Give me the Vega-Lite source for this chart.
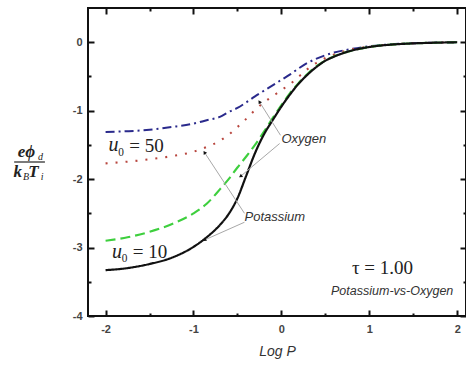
{
  "$schema": "https://vega.github.io/schema/vega-lite/v6.json",
  "width": 378,
  "height": 308,
  "autosize": {"type": "none"},
  "padding": {"left": 88, "top": 8, "right": 0, "bottom": 49},
  "background": "white",
  "config": {
    "view": {"stroke": "#111", "strokeWidth": 2},
    "axis": {"grid": false, "domain": false, "labelFont": "Liberation Sans", "labelFontSize": 11, "labelFontWeight": "bold", "labelColor": "#444", "tickColor": "#111", "tickWidth": 2}
  },
  "datasets": {
    "curves": [
      {"s": "O50", "x": -2, "y": -1.31}, {"s": "O50", "x": -1.75, "y": -1.3}, {"s": "O50", "x": -1.5, "y": -1.28}, {"s": "O50", "x": -1.25, "y": -1.24}, {"s": "O50", "x": -1, "y": -1.19}, {"s": "O50", "x": -0.85, "y": -1.14}, {"s": "O50", "x": -0.7, "y": -1.09}, {"s": "O50", "x": -0.6, "y": -1.02}, {"s": "O50", "x": -0.5, "y": -0.96}, {"s": "O50", "x": -0.4, "y": -0.88}, {"s": "O50", "x": -0.3, "y": -0.79}, {"s": "O50", "x": -0.2, "y": -0.71}, {"s": "O50", "x": -0.1, "y": -0.63}, {"s": "O50", "x": 0, "y": -0.55}, {"s": "O50", "x": 0.1, "y": -0.47}, {"s": "O50", "x": 0.2, "y": -0.38}, {"s": "O50", "x": 0.3, "y": -0.3}, {"s": "O50", "x": 0.4, "y": -0.24}, {"s": "O50", "x": 0.5, "y": -0.19}, {"s": "O50", "x": 0.6, "y": -0.15}, {"s": "O50", "x": 0.75, "y": -0.11}, {"s": "O50", "x": 1, "y": -0.06}, {"s": "O50", "x": 1.25, "y": -0.03}, {"s": "O50", "x": 1.5, "y": -0.015}, {"s": "O50", "x": 1.75, "y": -0.006}, {"s": "O50", "x": 2, "y": 0},
      {"s": "K50", "x": -2, "y": -1.77}, {"s": "K50", "x": -1.75, "y": -1.745}, {"s": "K50", "x": -1.5, "y": -1.71}, {"s": "K50", "x": -1.25, "y": -1.665}, {"s": "K50", "x": -1, "y": -1.6}, {"s": "K50", "x": -0.85, "y": -1.53}, {"s": "K50", "x": -0.7, "y": -1.44}, {"s": "K50", "x": -0.6, "y": -1.35}, {"s": "K50", "x": -0.5, "y": -1.24}, {"s": "K50", "x": -0.4, "y": -1.12}, {"s": "K50", "x": -0.3, "y": -0.99}, {"s": "K50", "x": -0.2, "y": -0.88}, {"s": "K50", "x": -0.1, "y": -0.79}, {"s": "K50", "x": 0, "y": -0.7}, {"s": "K50", "x": 0.1, "y": -0.61}, {"s": "K50", "x": 0.2, "y": -0.5}, {"s": "K50", "x": 0.3, "y": -0.39}, {"s": "K50", "x": 0.4, "y": -0.3}, {"s": "K50", "x": 0.5, "y": -0.23}, {"s": "K50", "x": 0.6, "y": -0.18}, {"s": "K50", "x": 0.75, "y": -0.12}, {"s": "K50", "x": 1, "y": -0.065}, {"s": "K50", "x": 1.25, "y": -0.033}, {"s": "K50", "x": 1.5, "y": -0.016}, {"s": "K50", "x": 1.75, "y": -0.007}, {"s": "K50", "x": 2, "y": 0},
      {"s": "O10", "x": -2, "y": -2.9}, {"s": "O10", "x": -1.75, "y": -2.85}, {"s": "O10", "x": -1.5, "y": -2.77}, {"s": "O10", "x": -1.25, "y": -2.66}, {"s": "O10", "x": -1, "y": -2.5}, {"s": "O10", "x": -0.85, "y": -2.36}, {"s": "O10", "x": -0.7, "y": -2.15}, {"s": "O10", "x": -0.6, "y": -2.0}, {"s": "O10", "x": -0.5, "y": -1.83}, {"s": "O10", "x": -0.4, "y": -1.67}, {"s": "O10", "x": -0.3, "y": -1.5}, {"s": "O10", "x": -0.2, "y": -1.31}, {"s": "O10", "x": -0.1, "y": -1.11}, {"s": "O10", "x": 0, "y": -0.92}, {"s": "O10", "x": 0.1, "y": -0.74}, {"s": "O10", "x": 0.2, "y": -0.59}, {"s": "O10", "x": 0.3, "y": -0.46}, {"s": "O10", "x": 0.4, "y": -0.35}, {"s": "O10", "x": 0.5, "y": -0.27}, {"s": "O10", "x": 0.6, "y": -0.205}, {"s": "O10", "x": 0.75, "y": -0.14}, {"s": "O10", "x": 1, "y": -0.07}, {"s": "O10", "x": 1.25, "y": -0.035}, {"s": "O10", "x": 1.5, "y": -0.017}, {"s": "O10", "x": 1.75, "y": -0.007}, {"s": "O10", "x": 2, "y": 0},
      {"s": "K10", "x": -2, "y": -3.33}, {"s": "K10", "x": -1.75, "y": -3.3}, {"s": "K10", "x": -1.5, "y": -3.24}, {"s": "K10", "x": -1.25, "y": -3.15}, {"s": "K10", "x": -1, "y": -2.99}, {"s": "K10", "x": -0.85, "y": -2.85}, {"s": "K10", "x": -0.7, "y": -2.67}, {"s": "K10", "x": -0.6, "y": -2.51}, {"s": "K10", "x": -0.5, "y": -2.28}, {"s": "K10", "x": -0.4, "y": -1.95}, {"s": "K10", "x": -0.3, "y": -1.62}, {"s": "K10", "x": -0.2, "y": -1.35}, {"s": "K10", "x": -0.1, "y": -1.14}, {"s": "K10", "x": 0, "y": -0.94}, {"s": "K10", "x": 0.1, "y": -0.76}, {"s": "K10", "x": 0.2, "y": -0.6}, {"s": "K10", "x": 0.3, "y": -0.47}, {"s": "K10", "x": 0.4, "y": -0.36}, {"s": "K10", "x": 0.5, "y": -0.27}, {"s": "K10", "x": 0.6, "y": -0.21}, {"s": "K10", "x": 0.75, "y": -0.14}, {"s": "K10", "x": 1, "y": -0.07}, {"s": "K10", "x": 1.25, "y": -0.035}, {"s": "K10", "x": 1.5, "y": -0.017}, {"s": "K10", "x": 1.75, "y": -0.007}, {"s": "K10", "x": 2, "y": 0}
    ],
    "leaders": [
      {"x": -0.01, "y": -1.36, "x2": -0.25, "y2": -0.87, "dir": "up"},
      {"x": -0.02, "y": -1.48, "x2": -0.465, "y2": -1.96, "dir": "down"},
      {"x": -0.42, "y": -2.5, "x2": -0.875, "y2": -1.61, "dir": "up"},
      {"x": -0.42, "y": -2.63, "x2": -0.875, "y2": -2.89, "dir": "down"}
    ],
    "uLabels": [
      {"t": "u", "x": -1.91, "y": -1.5},
      {"t": "u", "x": -1.87, "y": -3.06}
    ],
    "serifNotes": [
      {"t": "₀ = 50", "x": -1.6, "y": -1.51},
      {"t": "₀ = 10", "x": -1.56, "y": -3.07},
      {"t": "τ = 1.00", "x": 1.15, "y": -3.3}
    ],
    "sansNotes": [
      {"t": "Oxygen", "x": 0.0, "y": -1.41},
      {"t": "Potassium", "x": -0.42, "y": -2.56}
    ],
    "caption": [
      {"t": "Potassium-vs-Oxygen", "x": 1.26, "y": -3.64}
    ],
    "ybig": [
      {"t": "eϕ", "x": -2.9, "y": -1.6},
      {"t": "k", "x": -3.0, "y": -1.9},
      {"t": "T", "x": -2.82, "y": -1.9}
    ],
    "ysmall": [
      {"t": "d", "x": -2.74, "y": -1.68},
      {"t": "B", "x": -2.905, "y": -1.97},
      {"t": "i", "x": -2.723, "y": -1.97}
    ],
    "ybar": [
      {"x": -3.04, "x2": -2.69, "y": -1.75}
    ]
  },
  "resolve": {"axis": {"x": "independent", "y": "independent"}},
  "layer": [
    {
      "data": {"name": "curves"},
      "mark": {"type": "line", "interpolate": "monotone"},
      "encoding": {
        "x": {"field": "x", "type": "quantitative", "scale": {"domain": [-2.2, 2.1], "nice": false, "zero": false},
          "axis": {"orient": "bottom", "values": [-2, -1.5, -1, -0.5, 0, 0.5, 1, 1.5, 2], "labelExpr": "datum.value % 1 === 0 ? '' + datum.value : ''",
            "tickSize": {"condition": {"test": "datum.value % 1 !== 0", "value": -3}, "value": -6}, "labelPadding": 13,
            "title": "Log P", "titleFont": "Liberation Sans", "titleFontStyle": "italic", "titleFontWeight": "normal", "titleFontSize": 14, "titleColor": "#333", "titlePadding": 10}},
        "y": {"field": "y", "type": "quantitative", "scale": {"domain": [-4, 0.5], "nice": false, "zero": false},
          "axis": {"orient": "left", "values": [0, -0.5, -1, -1.5, -2, -2.5, -3, -3.5, -4], "labelExpr": "datum.value % 1 === 0 ? '' + datum.value : ''",
            "tickSize": {"condition": {"test": "datum.value % 1 !== 0", "value": -3}, "value": -6}, "labelPadding": 12, "title": null}},
        "color": {"field": "s", "type": "nominal", "scale": {"domain": ["O50", "K50", "O10", "K10"], "range": ["#2a2a8c", "#b8463e", "#3ecf3e", "#111111"]}, "legend": null},
        "strokeDash": {"field": "s", "type": "nominal", "scale": {"domain": ["O50", "K50", "O10", "K10"], "range": [[9, 4, 2, 4], [2, 8], [10, 5], [1, 0]]}, "legend": null},
        "strokeWidth": {"field": "s", "type": "ordinal", "scale": {"domain": ["O50", "K50", "O10", "K10"], "range": [2, 2.2, 2.5, 1.8]}, "legend": null}
      }
    },
    {
      "data": {"name": "leaders"},
      "mark": {"type": "rule", "color": "#a8a8a8", "strokeWidth": 1},
      "encoding": {
        "x": {"field": "x", "type": "quantitative", "scale": {"domain": [-2.2, 2.1], "nice": false, "zero": false},
          "axis": {"orient": "top", "values": [-2, -1.5, -1, -0.5, 0, 0.5, 1, 1.5, 2], "labels": false, "title": null,
            "tickSize": {"condition": {"test": "datum.value % 1 !== 0", "value": -3}, "value": -6}}},
        "y": {"field": "y", "type": "quantitative", "scale": {"domain": [-4, 0.5], "nice": false, "zero": false},
          "axis": {"orient": "right", "values": [0, -0.5, -1, -1.5, -2, -2.5, -3, -3.5, -4], "labels": false, "title": null,
            "tickSize": {"condition": {"test": "datum.value % 1 !== 0", "value": -3}, "value": -6}}},
        "x2": {"field": "x2"},
        "y2": {"field": "y2"}
      }
    },
    {
      "data": {"name": "leaders"},
      "transform": [{"filter": "datum.dir === 'up'"}],
      "mark": {"type": "point", "shape": "triangle-up", "filled": true, "color": "#111", "size": 16, "angle": 327, "opacity": 1},
      "encoding": {
        "x": {"field": "x2", "type": "quantitative", "scale": {"domain": [-2.2, 2.1], "nice": false, "zero": false}, "axis": null},
        "y": {"field": "y2", "type": "quantitative", "scale": {"domain": [-4, 0.5], "nice": false, "zero": false}, "axis": null}
      }
    },
    {
      "data": {"name": "leaders"},
      "transform": [{"filter": "datum.dir === 'down'"}],
      "mark": {"type": "point", "shape": "triangle-up", "filled": true, "color": "#111", "size": 16, "angle": 235, "opacity": 1},
      "encoding": {
        "x": {"field": "x2", "type": "quantitative", "scale": {"domain": [-2.2, 2.1], "nice": false, "zero": false}, "axis": null},
        "y": {"field": "y2", "type": "quantitative", "scale": {"domain": [-4, 0.5], "nice": false, "zero": false}, "axis": null}
      }
    },
    {
      "data": {"name": "uLabels"},
      "mark": {"type": "text", "font": "Liberation Serif", "fontSize": 20, "fontStyle": "italic", "color": "#222", "align": "center", "baseline": "middle"},
      "encoding": {
        "x": {"field": "x", "type": "quantitative", "scale": {"domain": [-2.2, 2.1], "nice": false, "zero": false}, "axis": null},
        "y": {"field": "y", "type": "quantitative", "scale": {"domain": [-4, 0.5], "nice": false, "zero": false}, "axis": null},
        "text": {"field": "t"}
      }
    },
    {
      "data": {"name": "serifNotes"},
      "mark": {"type": "text", "font": "Liberation Serif", "fontSize": 19, "color": "#222", "align": "center", "baseline": "middle"},
      "encoding": {
        "x": {"field": "x", "type": "quantitative", "scale": {"domain": [-2.2, 2.1], "nice": false, "zero": false}, "axis": null},
        "y": {"field": "y", "type": "quantitative", "scale": {"domain": [-4, 0.5], "nice": false, "zero": false}, "axis": null},
        "text": {"field": "t"}
      }
    },
    {
      "data": {"name": "sansNotes"},
      "mark": {"type": "text", "font": "Liberation Sans", "fontSize": 13, "fontStyle": "italic", "color": "#333", "align": "left", "baseline": "middle"},
      "encoding": {
        "x": {"field": "x", "type": "quantitative", "scale": {"domain": [-2.2, 2.1], "nice": false, "zero": false}, "axis": null},
        "y": {"field": "y", "type": "quantitative", "scale": {"domain": [-4, 0.5], "nice": false, "zero": false}, "axis": null},
        "text": {"field": "t"}
      }
    },
    {
      "data": {"name": "caption"},
      "mark": {"type": "text", "font": "Liberation Sans", "fontSize": 12.5, "fontStyle": "italic", "color": "#333", "align": "center", "baseline": "middle"},
      "encoding": {
        "x": {"field": "x", "type": "quantitative", "scale": {"domain": [-2.2, 2.1], "nice": false, "zero": false}, "axis": null},
        "y": {"field": "y", "type": "quantitative", "scale": {"domain": [-4, 0.5], "nice": false, "zero": false}, "axis": null},
        "text": {"field": "t"}
      }
    },
    {
      "data": {"name": "ybig"},
      "mark": {"type": "text", "font": "Liberation Serif", "fontSize": 17, "fontStyle": "italic", "fontWeight": "bold", "color": "#222", "align": "center", "baseline": "middle"},
      "encoding": {
        "x": {"field": "x", "type": "quantitative", "scale": {"domain": [-2.2, 2.1], "nice": false, "zero": false}, "axis": null},
        "y": {"field": "y", "type": "quantitative", "scale": {"domain": [-4, 0.5], "nice": false, "zero": false}, "axis": null},
        "text": {"field": "t"}
      }
    },
    {
      "data": {"name": "ysmall"},
      "mark": {"type": "text", "font": "Liberation Serif", "fontSize": 10, "fontStyle": "italic", "color": "#222", "align": "center", "baseline": "middle"},
      "encoding": {
        "x": {"field": "x", "type": "quantitative", "scale": {"domain": [-2.2, 2.1], "nice": false, "zero": false}, "axis": null},
        "y": {"field": "y", "type": "quantitative", "scale": {"domain": [-4, 0.5], "nice": false, "zero": false}, "axis": null},
        "text": {"field": "t"}
      }
    },
    {
      "data": {"name": "ybar"},
      "mark": {"type": "rule", "color": "#222", "strokeWidth": 1.2},
      "encoding": {
        "x": {"field": "x", "type": "quantitative", "scale": {"domain": [-2.2, 2.1], "nice": false, "zero": false}, "axis": null},
        "x2": {"field": "x2"},
        "y": {"field": "y", "type": "quantitative", "scale": {"domain": [-4, 0.5], "nice": false, "zero": false}, "axis": null}
      }
    }
  ]
}
